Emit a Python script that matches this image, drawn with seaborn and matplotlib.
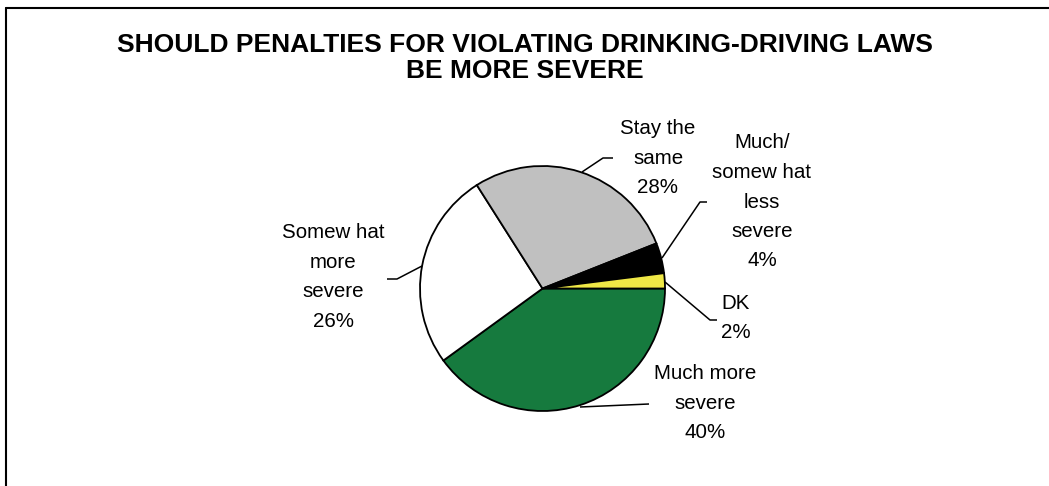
import matplotlib
matplotlib.use("Agg")
import matplotlib.pyplot as plt
from matplotlib.lines import Line2D
import seaborn as sns

# Survey answers: should drink-driving penalties be more severe?
categories = ["Much more severe", "Somewhat more severe", "Stay the same",
              "Much/somewhat less severe", "DK"]
label_texts = ["Much more\nsevere", "Somew hat\nmore\nsevere", "Stay the\nsame",
               "Much/\nsomew hat\nless\nsevere", "DK"]
shares = [40, 26, 28, 4, 2]
colors = ["#167A3E", "#FFFFFF", "#C0C0C0", "#000000", "#EFE846"]

title = "SHOULD PENALTIES FOR VIOLATING DRINKING-DRIVING LAWS\nBE MORE SEVERE"

sns.set_theme(style="white")
plt.rcParams["font.family"] = ["Liberation Sans", "DejaVu Sans"]

W, H = 1049, 486
fig = plt.figure(figsize=(W / 100, H / 100), dpi=100)
ax = fig.add_axes([0, 0, 1, 1])


def flip(y):
    return H - y


# pie geometry in pixel units
cx, cy, r = 542.5, 288.5, 122.5
ax.pie(shares, colors=colors, startangle=0, counterclock=False,
       center=(cx, flip(cy)), radius=r, frame=True,
       wedgeprops=dict(edgecolor="black", linewidth=1.3))
ax.set_xlim(0, W)
ax.set_ylim(0, H)
ax.set_aspect("auto")
ax.axis("off")

# label anchors and leader lines (pixel coords, y from top)
label_pos = [(705, 403), (333, 277), (658, 158), (762, 202), (736, 318)]
leaders = [
    [(580, 407), (649, 404)],
    [(422, 266), (397, 279), (387, 279)],
    [(582, 172), (603, 158), (613, 158)],
    [(662, 258), (700, 202), (707, 202)],
    [(665, 282), (710, 320), (717, 320)],
]

for text, val, (lx, ly), pts in zip(label_texts, shares, label_pos, leaders):
    ax.text(lx, flip(ly), f"{text}\n{val}%", ha="center", va="center",
            multialignment="center", fontsize=14.8, linespacing=1.7,
            color="black")
    xs = [p[0] for p in pts]
    ys = [flip(p[1]) for p in pts]
    ax.plot(xs, ys, color="black", linewidth=1.1, solid_capstyle="butt")

ax.text(525, flip(58), title, ha="center", va="center", multialignment="center",
        fontsize=19, fontweight="bold", linespacing=1.1, color="black")

# outer frame (left and top edges)
fig.add_artist(Line2D([6 / W, 6 / W], [0, 1 - 8 / H], transform=fig.transFigure,
                      color="black", linewidth=1.5))
fig.add_artist(Line2D([6 / W, 1], [1 - 8 / H, 1 - 8 / H], transform=fig.transFigure,
                      color="black", linewidth=1.5))

fig.savefig("out.png", dpi=100, facecolor="white")
